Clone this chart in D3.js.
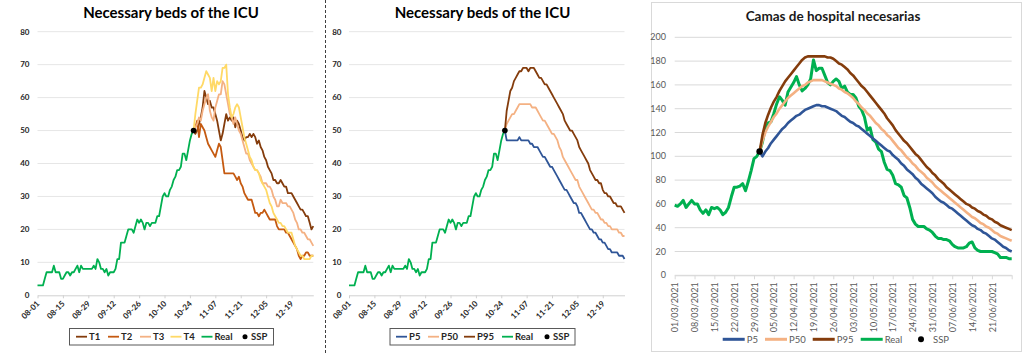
<!DOCTYPE html>
<html>
<head>
<meta charset="utf-8">
<title>Necessary beds</title>
<style>
  body { margin: 0; background: #fff; }
  svg { display: block; font-family: Lato, "Open Sans", sans-serif; }
</style>
</head>
<body>
<svg width="1024" height="354"></svg>
<script src="https://d3js.org/d3.v7.min.js"></script>
<script>
// ---- data: ICU charts (daily values) ----
const icuStart = "2020-08-01"        // first day of the Real series
const icuEnd = "2020-12-31"
const icuForecastStart = "2020-10-26" // SSP day, first day of T/P series
const icuTicks = ["08-01", "08-15", "08-29", "09-12", "09-26", "10-10", "10-24", "11-07", "11-21", "12-05", "12-19"]
const icuYTicks = [0, 10, 20, 30, 40, 50, 60, 70, 80]

const realIcu = [3,3,3,3,5,7,7,7,7,9, 7,7,7,5,5,6,7,7,6,7, 7,8,9,7,9,8,8,8,8,8,
  8,9,8,11,10,8,8,7,8,6, 7,7,7,8,11,11,16,16,16,18, 20,20,20,19,21,23,22,23,22,20,
  22,22,21,22,22,22,24,24,27,30, 31,30,30,32,33,35,36,38,38,39, 43,43,41,44,47,49,50]

const t1 = [50,49,50,52,54,57,62,60,58,59, 57,57,55,53,50,47,49,52,55,53, 54,53,54,51,53,52,50,48,47,48,
  48,49,48,49,48,46,47,45,44,42, 41,39,38,37,35,35,34,34,35,34, 33,33,31,31,31,30,29,28,27,26, 26,25,24,24,22,20,21]
const t2 = [50,51,53,48,52,51,50,48,46,45, 44,43,42,44,46,45,41,37,37,37, 37,37,37,36,35,36,34,33,31,30,
  29,29,29,27,25,25,24,25,25,26, 25,24,23,23,23,23,21,20,20,20, 20,19,19,18,17,16,15,14,12,11, 12,12,13,13,12,12,12]
const t3 = [50,51,52,54,53,56,58,60,61,56, 54,53,57,59,61,61,65,64,61,58, 55,54,52,54,52,50,49,47,45,43,
  43,41,40,39,38,38,37,36,34,34, 34,33,33,32,30,29,27,27,29,28, 28,28,27,27,26,25,23,22,20,20, 19,19,18,17,17,16,15]
const t4 = [50,55,59,63,63,64,66,68,67,66, 62,66,62,65,64,65,69,69,70,61, 57,54,55,57,58,57,54,51,48,46,
  44,42,41,39,38,38,37,35,34,33, 32,30,28,27,25,24,23,22,22,21, 21,20,19,19,19,17,15,14,13,12, 12,11,11,11,11,12,12]

const p95Icu = [50,56,59,62,63,65,66,67,68,68, 69,69,69,68,69,69,69,68,67,66, 66,65,64,64,63,62,61,60,59,58,
  57,56,55,53,52,51,50,50,49,48, 47,45,44,43,42,41,40,38,37,36, 35,35,34,34,32,31,31,30,30,29, 28,28,27,27,27,26,25]
const p50Icu = [50,52,53,54,55,55,56,57,58,58, 58,58,58,58,58,57,57,57,56,55, 54,53,53,52,51,50,49,49,48,47,
  45,44,42,41,40,39,38,37,36,35, 35,33,32,31,30,29,28,27,26,26, 25,25,24,23,23,22,22,21,21,20, 20,20,20,19,19,18,18]
const p5Icu = [50,47,47,47,47,47,47,47,48,47, 47,47,47,47,46,46,45,45,45,44, 43,42,42,41,40,39,39,38,37,36,
  35,34,33,32,32,31,30,29,28,28, 27,25,25,24,23,22,21,20,20,19, 19,18,17,17,16,16,15,14,14,13, 13,13,13,12,12,12,11]
const sspIcu = 50

// ---- data: hospital chart (daily values) ----
const hospStart = "2021-03-01"
const hospEnd = "2021-06-28"
const hospForecastStart = "2021-03-31"
const hospTicks = ["01/03/2021", "08/03/2021", "15/03/2021", "22/03/2021", "29/03/2021", "05/04/2021",
  "12/04/2021", "19/04/2021", "26/04/2021", "03/05/2021", "10/05/2021", "17/05/2021", "24/05/2021",
  "31/05/2021", "07/06/2021", "14/06/2021", "21/06/2021"]
const hospYTicks = [0, 20, 40, 60, 80, 100, 120, 140, 160, 180, 200]

const realHosp = [59,58,60,63,57,60,63,60,60,55, 52,55,51,57,56,57,55,51,53,57,
  66,74,74,75,77,71,79,88,98,100, 104,112,124,128,129,136,144,150,147,143,
  154,158,162,167,160,155,157,160,165,181, 172,174,174,168,162,160,163,165,163,157,
  159,154,152,152,149,142,139,133,122,124, 114,112,106,104,95,89,88,84,77,76,
  74,67,65,57,47,43,41,41,41,39, 38,36,33,31,31,30,30,29,26,24,
  23,23,23,24,27,28,23,21,20,20, 20,20,20,19,18,15,15,15,14,14]
const p95Hosp = [104,118,128,135,141,146,150,155,159,163, 166,169,172,175,178,181,183,184,184,184,
  184,184,184,184,183,183,182,180,178,177, 175,173,170,168,165,162,159,157,154,151,
  148,145,142,139,136,132,129,126,122,119, 116,113,111,108,105,102,100,97,94,91,
  89,86,84,81,79,77,74,72,70,68, 66,64,62,60,59,57,56,54,53,51, 50,48,47,45,44,42,41,40,39,38]
const p50Hosp = [104,113,120,125,129,133,136,140,143,146, 149,151,153,155,157,159,160,162,163,164,
  164,164,164,163,162,161,160,159,157,156, 154,153,151,149,146,144,141,139,136,134,
  131,128,126,123,121,118,116,113,110,107, 105,102,99,97,94,92,89,87,85,82,
  80,78,75,73,71,69,67,65,63,61, 59,57,55,53,51,49,48,46,44,43, 41,40,38,36,35,33,32,31,30,29]
const p5Hosp = [104,100,104,107,111,114,117,120,123,125, 128,130,132,134,135,137,139,140,141,142,
  143,143,142,142,141,140,139,138,136,134, 133,131,129,128,126,125,123,121,119,117,
  115,113,111,109,107,105,104,101,99,97, 94,92,89,87,85,82,80,77,75,73,
  71,69,66,64,62,61,59,57,56,54, 52,50,48,46,44,42,41,39,38,36, 35,33,31,30,28,26,24,23,21,20]
const sspHosp = 104

// ---- helpers ----
const GREEN = "#00B050", DARK = "#843C0C", ORANGE = "#C55A11", PEACH = "#F4B183", YELLOW = "#FFD966", BLUE = "#2F5597"
const svg = d3.select("svg")
const day = s => new Date(s + "T00:00:00Z")
const toPoints = (start, values) => values.map((v, i) => ({ date: d3.utcDay.offset(day(start), i), v }))

const drawIcuPanel = (opt) => {
  const x = d3.scaleUtc().domain([day(icuStart), day(icuEnd)]).range([opt.left, opt.right])
  const y = d3.scaleLinear().domain([0, 80]).range([295.3, 31.7])
  const g = svg.append("g")

  g.append("text")
    .attr("x", opt.titleX).attr("y", 18)
    .attr("text-anchor", "middle")
    .attr("font-size", 15).attr("font-weight", "bold").attr("fill", "#000")
    .text("Necessary beds of the ICU")

  // gridlines + y labels
  g.append("g").selectAll("line")
    .data(icuYTicks.filter(d => d > 0))
    .join("line")
    .attr("x1", opt.left).attr("x2", opt.right)
    .attr("y1", d => y(d)).attr("y2", d => y(d))
    .attr("stroke", "#E6E6E6").attr("stroke-width", 1)

  g.append("g").selectAll("text")
    .data(icuYTicks)
    .join("text")
    .attr("x", opt.labelX).attr("y", d => y(d)).attr("dy", "0.35em")
    .attr("text-anchor", "end")
    .attr("font-size", 8).attr("font-weight", "bold").attr("fill", "#262626")
    .text(d => d)

  // x axis
  const tickDates = icuTicks.map(t => day("2020-" + t))
  const xAxis = g.append("g").attr("transform", "translate(0,295.3)")
    .call(d3.axisBottom(x).tickValues(tickDates).tickSize(3).tickSizeOuter(0).tickFormat(d3.utcFormat("%m-%d")))
  xAxis.select(".domain").attr("stroke", "#D0D0D0")
  xAxis.selectAll(".tick line").attr("stroke", "#D0D0D0")
  xAxis.selectAll(".tick text")
    .attr("font-family", "Lato, sans-serif")
    .attr("font-size", 8).attr("font-weight", "bold").attr("fill", "#262626")
    .attr("text-anchor", "end")
    .attr("dy", null).attr("y", null)
    .attr("transform", "translate(2,9) rotate(-45)")

  // series
  const line = d3.line().x(d => x(d.date)).y(d => y(d.v))
  opt.series.forEach(s => {
    g.append("path")
      .datum(toPoints(s.start, s.values))
      .attr("fill", "none").attr("stroke", s.color).attr("stroke-width", 1.8)
      .attr("stroke-linejoin", "round")
      .attr("d", line)
  })
  g.append("circle")
    .attr("cx", x(day(icuForecastStart))).attr("cy", y(sspIcu))
    .attr("r", 2.8).attr("fill", "#000")

  // legend
  const lg = g.append("g")
  lg.append("rect")
    .attr("x", opt.legend.x).attr("y", 328.5).attr("width", opt.legend.w).attr("height", 16.5)
    .attr("fill", "#fff").attr("stroke", "#595959").attr("stroke-width", 1)
  opt.legend.items.forEach(it => {
    if (it.dot) {
      lg.append("circle").attr("cx", it.x + 4).attr("cy", 336.7).attr("r", 2.5).attr("fill", "#000")
    } else {
      lg.append("line").attr("x1", it.x).attr("x2", it.x + 11).attr("y1", 336.7).attr("y2", 336.7)
        .attr("stroke", it.color).attr("stroke-width", 1.8)
    }
    lg.append("text")
      .attr("x", it.x + (it.dot ? 10 : 13)).attr("y", 336.7).attr("dy", "0.35em")
      .attr("font-size", 9.5).attr("font-weight", "bold").attr("fill", "#262626")
      .text(it.name)
  })
}

drawIcuPanel({
  left: 37.5, right: 313.3, labelX: 29.5, titleX: 171,
  series: [
    { start: icuStart, values: realIcu, color: GREEN },
    { start: icuForecastStart, values: t1, color: DARK },
    { start: icuForecastStart, values: t2, color: ORANGE },
    { start: icuForecastStart, values: t3, color: PEACH },
    { start: icuForecastStart, values: t4, color: YELLOW }
  ],
  legend: {
    x: 69.5, w: 204,
    items: [
      { name: "T1", color: DARK, x: 76 }, { name: "T2", color: ORANGE, x: 108 },
      { name: "T3", color: PEACH, x: 140 }, { name: "T4", color: YELLOW, x: 170.5 },
      { name: "Real", color: GREEN, x: 201.5 }, { name: "SSP", dot: true, x: 241 }
    ]
  }
})

drawIcuPanel({
  left: 349, right: 624.5, labelX: 341.5, titleX: 482.5,
  series: [
    { start: icuStart, values: realIcu, color: GREEN },
    { start: icuForecastStart, values: p5Icu, color: BLUE },
    { start: icuForecastStart, values: p50Icu, color: PEACH },
    { start: icuForecastStart, values: p95Icu, color: DARK }
  ],
  legend: {
    x: 390, w: 185,
    items: [
      { name: "P5", color: BLUE, x: 396 }, { name: "P50", color: PEACH, x: 428 },
      { name: "P95", color: DARK, x: 464 }, { name: "Real", color: GREEN, x: 502 },
      { name: "SSP", dot: true, x: 543 }
    ]
  }
})

// dashed separator between the two ICU charts
svg.append("line")
  .attr("x1", 325.5).attr("x2", 325.5).attr("y1", 0).attr("y2", 354)
  .attr("stroke", "#404040").attr("stroke-width", 1).attr("stroke-dasharray", "3,2")

// ---- hospital chart ----
const drawHospPanel = () => {
  const left = 674.7, right = 1011.7
  const x = d3.scaleUtc().domain([day(hospStart), day(hospEnd)]).range([left, right])
  const y = d3.scaleLinear().domain([0, 200]).range([275.3, 37.3])
  const g = svg.append("g")

  g.append("rect")
    .attr("x", 651.5).attr("y", 2.5).attr("width", 370).attr("height", 349)
    .attr("fill", "#fff").attr("stroke", "#D9D9D9")

  g.append("text")
    .attr("x", 833).attr("y", 21)
    .attr("text-anchor", "middle")
    .attr("font-size", 13.5).attr("font-weight", "bold").attr("fill", "#1a1a1a")
    .text("Camas de hospital necesarias")

  g.append("g").selectAll("line")
    .data(hospYTicks)
    .join("line")
    .attr("x1", left).attr("x2", right)
    .attr("y1", d => y(d)).attr("y2", d => y(d))
    .attr("stroke", "#D9D9D9").attr("stroke-width", 1)

  g.append("g").selectAll("text")
    .data(hospYTicks)
    .join("text")
    .attr("x", 666).attr("y", d => y(d)).attr("dy", "0.35em")
    .attr("text-anchor", "end")
    .attr("font-size", 9).attr("fill", "#595959")
    .text(d => d)

  const parse = d3.utcParse("%d/%m/%Y")
  const tickDates = hospTicks.map(parse)
  const xAxis = g.append("g").attr("transform", "translate(0,275.3)")
    .call(d3.axisBottom(x).tickValues(tickDates.concat([day(hospEnd)])).tickSize(4).tickSizeOuter(0)
      .tickFormat(d => +d === +day(hospEnd) ? "" : d3.utcFormat("%d/%m/%Y")(d)))
  xAxis.select(".domain").attr("stroke", "#D9D9D9")
  xAxis.selectAll(".tick line").attr("stroke", "#D9D9D9")
  xAxis.selectAll(".tick text")
    .attr("font-family", "Lato, sans-serif")
    .attr("font-size", 9).attr("fill", "#595959")
    .attr("text-anchor", "end")
    .attr("y", null).attr("dy", "0.35em")
    .attr("transform", "translate(0,7) rotate(-90)")

  const line = d3.line().x(d => x(d.date)).y(d => y(d.v))
  const series = [
    { start: hospStart, values: realHosp, color: GREEN, w: 3 },
    { start: hospForecastStart, values: p5Hosp, color: BLUE, w: 2.6 },
    { start: hospForecastStart, values: p50Hosp, color: PEACH, w: 2.6 },
    { start: hospForecastStart, values: p95Hosp, color: DARK, w: 2.6 }
  ]
  series.forEach(s => {
    g.append("path")
      .datum(toPoints(s.start, s.values))
      .attr("fill", "none").attr("stroke", s.color).attr("stroke-width", s.w)
      .attr("stroke-linejoin", "round")
      .attr("d", line)
  })
  g.append("circle")
    .attr("cx", x(day(hospForecastStart))).attr("cy", y(sspHosp))
    .attr("r", 3.3).attr("fill", "#000")

  const legendItems = [
    { name: "P5", color: BLUE, x: 722.7 }, { name: "P50", color: PEACH, x: 765 },
    { name: "P95", color: DARK, x: 812.7 }, { name: "Real", color: GREEN, x: 860.7 },
    { name: "SSP", dot: true, x: 917 }
  ]
  legendItems.forEach(it => {
    if (it.dot) {
      g.append("circle").attr("cx", it.x + 4).attr("cy", 339.3).attr("r", 3).attr("fill", "#000")
    } else {
      g.append("line").attr("x1", it.x).attr("x2", it.x + 22).attr("y1", 339.3).attr("y2", 339.3)
        .attr("stroke", it.color).attr("stroke-width", 3)
    }
    g.append("text")
      .attr("x", it.x + (it.dot ? 16 : 24)).attr("y", 339.3).attr("dy", "0.35em")
      .attr("font-size", 9.5).attr("fill", "#595959")
      .text(it.name)
  })
}
drawHospPanel()
</script>
</body>
</html>
